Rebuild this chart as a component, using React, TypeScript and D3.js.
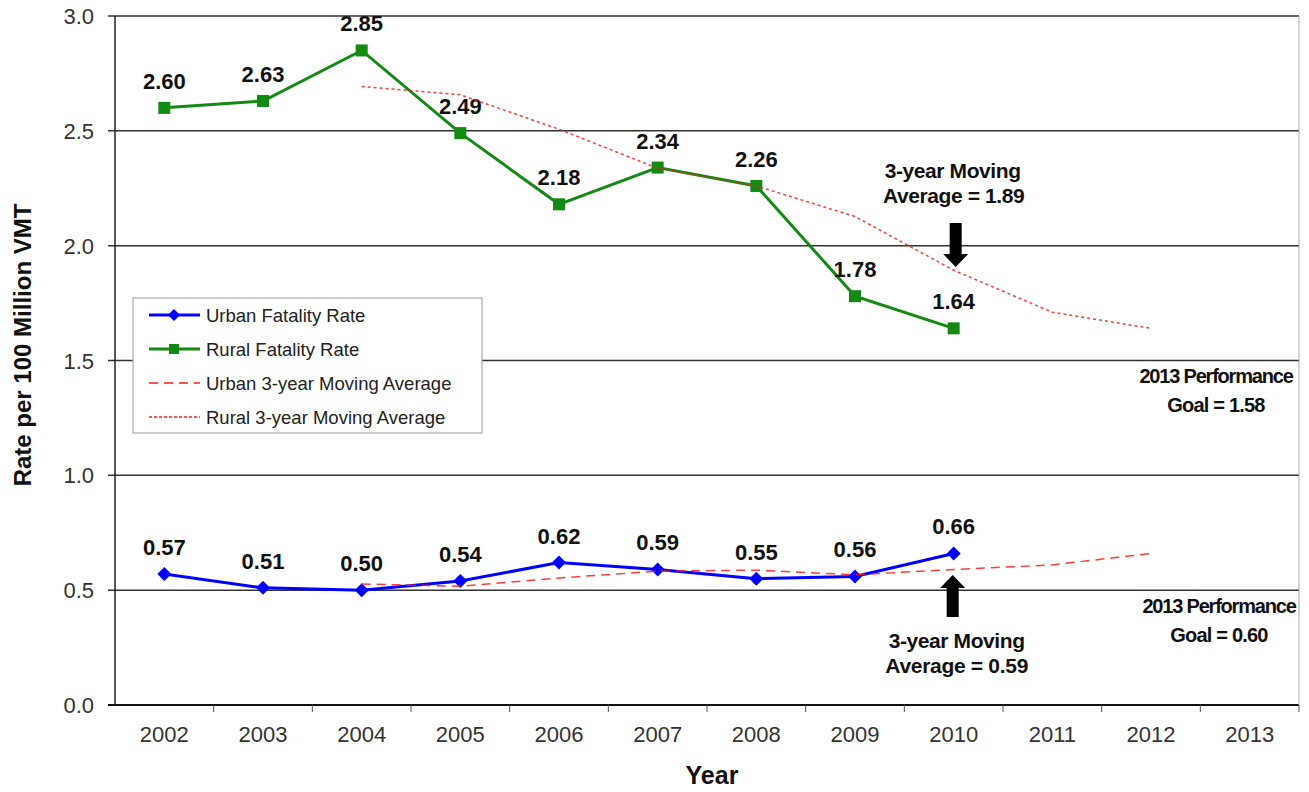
import React from "react";
import * as d3 from "d3";

const years = ["2002","2003","2004","2005","2006","2007","2008","2009","2010","2011","2012","2013"];
const rateYears = ["2002","2003","2004","2005","2006","2007","2008","2009","2010"];
const urbanRate = [0.57, 0.51, 0.50, 0.54, 0.62, 0.59, 0.55, 0.56, 0.66];
const ruralRate = [2.60, 2.63, 2.85, 2.49, 2.18, 2.34, 2.26, 1.78, 1.64];
const maYears = ["2004","2005","2006","2007","2008","2009","2010","2011","2012"];
const urbanMA = [0.527, 0.517, 0.553, 0.583, 0.587, 0.567, 0.59, 0.61, 0.66];
const ruralMA = [2.693, 2.657, 2.507, 2.337, 2.26, 2.127, 1.893, 1.71, 1.64];
const yTicks = [0, 0.5, 1.0, 1.5, 2.0, 2.5, 3.0];
const legendItems = ["Urban Fatality Rate", "Rural Fatality Rate", "Urban 3-year Moving Average", "Rural 3-year Moving Average"];

const W = 1309, H = 792;
const L = 115, R = 1299, T = 16, B = 705;
const FONT = "'Liberation Sans', Arial, sans-serif";

export default function App() {
  const x = d3.scaleBand<string>().domain(years).range([L, R]);
  const cx = (yr: string) => (x(yr) as number) + x.bandwidth() / 2;
  const y = d3.scaleLinear().domain([0, 3]).range([B, T]);
  const line = d3.line<[string, number]>().x(d => cx(d[0])).y(d => y(d[1]));

  const urbanPts: [string, number][] = rateYears.map((yr, i) => [yr, urbanRate[i]]);
  const ruralPts: [string, number][] = rateYears.map((yr, i) => [yr, ruralRate[i]]);
  const uMaPts: [string, number][] = maYears.map((yr, i) => [yr, urbanMA[i]]);
  const rMaPts: [string, number][] = maYears.map((yr, i) => [yr, ruralMA[i]]);

  const blue = "#0000ff";
  const green = "#138a13";
  const red = "#ff1a1a";

  const arrowDown = (xc: number, y0: number, y1: number) =>
    `M${xc - 6},${y0} L${xc + 6},${y0} L${xc + 6},${y1 - 13} L${xc + 12.5},${y1 - 13} L${xc},${y1} L${xc - 12.5},${y1 - 13} L${xc - 6},${y1 - 13} Z`;
  const arrowUp = (xc: number, y0: number, y1: number) =>
    `M${xc - 6},${y1} L${xc + 6},${y1} L${xc + 6},${y0 + 13} L${xc + 12.5},${y0 + 13} L${xc},${y0} L${xc - 12.5},${y0 + 13} L${xc - 6},${y0 + 13} Z`;

  const x2010 = cx("2010");

  return (
    <svg width={W} height={H} style={{ position: "absolute", left: 0, top: 0, background: "#fff" }}>
      <rect x={0} y={0} width={W} height={H} fill="#fff" />
      {yTicks.map(t => (
        <g key={t}>
          <line x1={L - 7} x2={R} y1={y(t)} y2={y(t)} stroke={t === 0 ? "#111" : "#333"} strokeWidth={t === 0 ? 2 : 1.5} />
          <text x={94} y={y(t) + 8} textAnchor="end" fontFamily={FONT} fontSize={22} fill="#333">{t.toFixed(1)}</text>
        </g>
      ))}
      <line x1={L} x2={L} y1={T} y2={B} stroke="#222" strokeWidth={1.5} />
      <line x1={R} x2={R} y1={T} y2={B} stroke="#aaa" strokeWidth={1} />
      {years.map((yr, i) => (
        <g key={yr}>
          {i > 0 && <line x1={x(yr)} x2={x(yr)} y1={B} y2={B + 7} stroke="#555" strokeWidth={1} />}
          <text x={cx(yr)} y={B + 37} textAnchor="middle" fontFamily={FONT} fontSize={22} fill="#333">{yr}</text>
        </g>
      ))}
      <line x1={R} x2={R} y1={B} y2={B + 7} stroke="#555" strokeWidth={1} />

      <path d={line(ruralPts) as string} fill="none" stroke={green} strokeWidth={3} />
      {ruralPts.map(([yr, v]) => (
        <g key={"r" + yr}>
          <rect x={cx(yr) - 6} y={y(v) - 6} width={12} height={12} fill={green} />
          <text x={cx(yr)} y={y(v) - 19} textAnchor="middle" fontFamily={FONT} fontWeight="bold" fontSize={22} fill="#111">{v.toFixed(2)}</text>
        </g>
      ))}
      <path d={line(urbanPts) as string} fill="none" stroke={blue} strokeWidth={3} />
      {urbanPts.map(([yr, v]) => (
        <g key={"u" + yr}>
          <path d={`M${cx(yr)},${y(v) - 7} L${cx(yr) + 7},${y(v)} L${cx(yr)},${y(v) + 7} L${cx(yr) - 7},${y(v)} Z`} fill={blue} />
          <text x={cx(yr)} y={y(v) - 19} textAnchor="middle" fontFamily={FONT} fontWeight="bold" fontSize={22} fill="#111">{v.toFixed(2)}</text>
        </g>
      ))}

      <path d={line(rMaPts) as string} fill="none" stroke={red} strokeWidth={1.5} strokeDasharray="3,3" strokeOpacity={0.85} />
      <path d={line(uMaPts) as string} fill="none" stroke={red} strokeWidth={1.5} strokeDasharray="9,6" strokeOpacity={0.85} />

      <g fontFamily={FONT} fontWeight="bold" fill="#111" textAnchor="middle">
        <text x={x2010 - 1} y={178} fontSize={21} letterSpacing={-0.4}>3-year Moving</text>
        <text x={x2010} y={203} fontSize={21} letterSpacing={-0.4}>Average = 1.89</text>
        <text x={x2010 + 3} y={648} fontSize={21} letterSpacing={-0.4}>3-year Moving</text>
        <text x={x2010 + 3} y={673} fontSize={21} letterSpacing={-0.3}>Average = 0.59</text>
        <text x={1216} y={383} fontSize={20} letterSpacing={-1.2}>2013 Performance</text>
        <text x={1216} y={412} fontSize={20} letterSpacing={-0.8}>Goal = 1.58</text>
        <text x={1219} y={613} fontSize={20} letterSpacing={-1.2}>2013 Performance</text>
        <text x={1219} y={642} fontSize={20} letterSpacing={-0.8}>Goal = 0.60</text>
      </g>
      <path d={arrowDown(x2010 + 2, 223, 267)} fill="#000" />
      <path d={arrowUp(x2010 - 1, 575, 617)} fill="#000" />

      <g>
        <rect x={133} y={298} width={349} height={135} fill="#fff" stroke="#999" strokeWidth={1} />
        {legendItems.map((name, i) => {
          const ly = 315 + i * 34;
          return (
            <g key={name}>
              {i === 0 && <>
                <line x1={149} x2={200} y1={ly} y2={ly} stroke={blue} strokeWidth={3} />
                <path d={`M174,${ly - 6} L180,${ly} L174,${ly + 6} L168,${ly} Z`} fill={blue} />
              </>}
              {i === 1 && <>
                <line x1={149} x2={200} y1={ly} y2={ly} stroke={green} strokeWidth={3} />
                <rect x={169} y={ly - 5} width={10} height={10} fill={green} />
              </>}
              {i === 2 && <line x1={149} x2={200} y1={ly} y2={ly} stroke={red} strokeWidth={1.5} strokeDasharray="9,6" />}
              {i === 3 && <line x1={149} x2={200} y1={ly} y2={ly} stroke={red} strokeWidth={1.5} strokeDasharray="3,2" />}
              <text x={206} y={ly + 7} fontFamily={FONT} fontSize={18.5} fill="#222">{name}</text>
            </g>
          );
        })}
      </g>

      <text transform={`translate(31,${345}) rotate(-90)`} textAnchor="middle" fontFamily={FONT} fontWeight="bold" fontSize={24} fill="#111">Rate per 100 Million VMT</text>
      <text x={712} y={784} textAnchor="middle" fontFamily={FONT} fontWeight="bold" fontSize={25} fill="#111">Year</text>
    </svg>
  );
}
